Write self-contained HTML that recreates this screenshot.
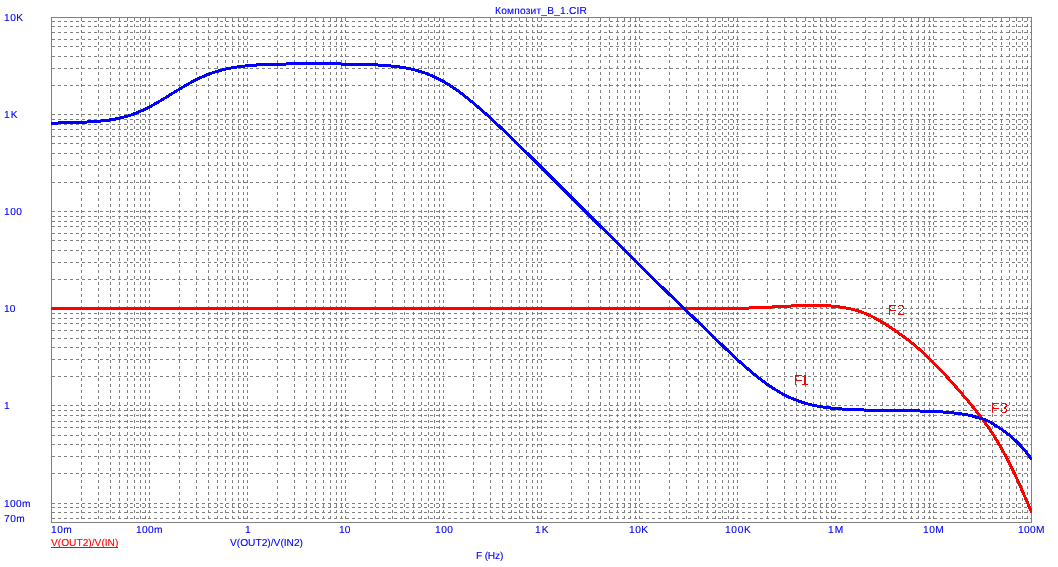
<!DOCTYPE html>
<html><head><meta charset="utf-8"><title>Композит_В_1.CIR</title>
<style>
html,body{margin:0;padding:0;background:#fff;overflow:hidden}
svg{display:block}
</style></head><body>
<svg width="1058" height="567" viewBox="0 0 1058 567">
<defs><filter id="crisp" x="0" y="0" width="100%" height="100%" filterUnits="userSpaceOnUse" color-interpolation-filters="sRGB"><feComponentTransfer><feFuncA type="gamma" amplitude="1" exponent="0.8" offset="0"/></feComponentTransfer></filter><filter id="crisp2" x="0" y="0" width="100%" height="100%" filterUnits="userSpaceOnUse" color-interpolation-filters="sRGB"><feComponentTransfer><feFuncA type="discrete" tableValues="0 0 0 1 1"/></feComponentTransfer></filter><filter id="crispc" x="0" y="0" width="100%" height="100%" filterUnits="userSpaceOnUse" color-interpolation-filters="sRGB"><feComponentTransfer><feFuncA type="discrete" tableValues="0 1"/></feComponentTransfer></filter><clipPath id="plotclip"><rect x="51" y="0" width="981" height="567"/></clipPath></defs>
<rect width="1058" height="567" fill="#fff"/>
<g stroke="#808080" stroke-width="1" fill="none" shape-rendering="crispEdges">
<path stroke-dasharray="3 3" d="M52 21.5H1031 M52 26.5H1031 M52 32.5H1031 M52 39.5H1031 M52 46.5H1031 M52 56.5H1031 M52 68.5H1031 M52 85.5H1031 M52 114.5H1031 M52 119.5H1031 M52 124.5H1031 M52 129.5H1031 M52 136.5H1031 M52 143.5H1031 M52 153.5H1031 M52 165.5H1031 M52 182.5H1031 M52 211.5H1031 M52 216.5H1031 M52 221.5H1031 M52 226.5H1031 M52 233.5H1031 M52 240.5H1031 M52 250.5H1031 M52 262.5H1031 M52 279.5H1031 M52 308.5H1031 M52 313.5H1031 M52 318.5H1031 M52 323.5H1031 M52 330.5H1031 M52 338.5H1031 M52 347.5H1031 M52 359.5H1031 M52 376.5H1031 M52 405.5H1031 M52 410.5H1031 M52 415.5H1031 M52 421.5H1031 M52 427.5H1031 M52 435.5H1031 M52 444.5H1031 M52 456.5H1031 M52 473.5H1031 M52 503.5H1031 M52 507.5H1031 M52 512.5H1031 M52 518.5H1031"/>
<path stroke-dasharray="3 3" d="M81.5 18V522 M98.5 18V522 M110.5 18V522 M119.5 18V522 M127.5 18V522 M134.5 18V522 M140.5 18V522 M145.5 18V522 M149.5 18V522 M179.5 18V522 M196.5 18V522 M208.5 18V522 M217.5 18V522 M225.5 18V522 M232.5 18V522 M238.5 18V522 M243.5 18V522 M247.5 18V522 M277.5 18V522 M294.5 18V522 M306.5 18V522 M315.5 18V522 M323.5 18V522 M330.5 18V522 M336.5 18V522 M341.5 18V522 M345.5 18V522 M375.5 18V522 M392.5 18V522 M404.5 18V522 M413.5 18V522 M421.5 18V522 M428.5 18V522 M434.5 18V522 M439.5 18V522 M443.5 18V522 M473.5 18V522 M490.5 18V522 M502.5 18V522 M511.5 18V522 M519.5 18V522 M526.5 18V522 M532.5 18V522 M537.5 18V522 M541.5 18V522 M571.5 18V522 M588.5 18V522 M600.5 18V522 M609.5 18V522 M617.5 18V522 M624.5 18V522 M630.5 18V522 M635.5 18V522 M639.5 18V522 M669.5 18V522 M686.5 18V522 M698.5 18V522 M707.5 18V522 M715.5 18V522 M722.5 18V522 M728.5 18V522 M733.5 18V522 M737.5 18V522 M767.5 18V522 M784.5 18V522 M796.5 18V522 M805.5 18V522 M813.5 18V522 M820.5 18V522 M826.5 18V522 M831.5 18V522 M835.5 18V522 M865.5 18V522 M882.5 18V522 M894.5 18V522 M903.5 18V522 M911.5 18V522 M918.5 18V522 M924.5 18V522 M929.5 18V522 M933.5 18V522 M963.5 18V522 M980.5 18V522 M992.5 18V522 M1001.5 18V522 M1009.5 18V522 M1016.5 18V522 M1022.5 18V522 M1027.5 18V522"/>
<rect x="51.5" y="17.5" width="980" height="505"/>
</g>
<g clip-path="url(#plotclip)" fill="none" stroke-width="3" shape-rendering="crispEdges" stroke-linejoin="round" stroke-linecap="butt">
<polyline stroke="#ff0000" points="51,308.5 52,308.5 53,308.5 54,308.5 55,308.5 56,308.5 57,308.5 58,308.5 59,308.5 60,308.5 61,308.5 62,308.5 63,308.5 64,308.5 65,308.5 66,308.5 67,308.5 68,308.5 69,308.5 70,308.5 71,308.5 72,308.5 73,308.5 74,308.5 75,308.5 76,308.5 77,308.5 78,308.5 79,308.5 80,308.5 81,308.5 82,308.5 83,308.5 84,308.5 85,308.5 86,308.5 87,308.5 88,308.5 89,308.5 90,308.5 91,308.5 92,308.5 93,308.5 94,308.5 95,308.5 96,308.5 97,308.5 98,308.5 99,308.5 100,308.5 101,308.5 102,308.5 103,308.5 104,308.5 105,308.5 106,308.5 107,308.5 108,308.5 109,308.5 110,308.5 111,308.5 112,308.5 113,308.5 114,308.5 115,308.5 116,308.5 117,308.5 118,308.5 119,308.5 120,308.5 121,308.5 122,308.5 123,308.5 124,308.5 125,308.5 126,308.5 127,308.5 128,308.5 129,308.5 130,308.5 131,308.5 132,308.5 133,308.5 134,308.5 135,308.5 136,308.5 137,308.5 138,308.5 139,308.5 140,308.5 141,308.5 142,308.5 143,308.5 144,308.5 145,308.5 146,308.5 147,308.5 148,308.5 149,308.5 150,308.5 151,308.5 152,308.5 153,308.5 154,308.5 155,308.5 156,308.5 157,308.5 158,308.5 159,308.5 160,308.5 161,308.5 162,308.5 163,308.5 164,308.5 165,308.5 166,308.5 167,308.5 168,308.5 169,308.5 170,308.5 171,308.5 172,308.5 173,308.5 174,308.5 175,308.5 176,308.5 177,308.5 178,308.5 179,308.5 180,308.5 181,308.5 182,308.5 183,308.5 184,308.5 185,308.5 186,308.5 187,308.5 188,308.5 189,308.5 190,308.5 191,308.5 192,308.5 193,308.5 194,308.5 195,308.5 196,308.5 197,308.5 198,308.5 199,308.5 200,308.5 201,308.5 202,308.5 203,308.5 204,308.5 205,308.5 206,308.5 207,308.5 208,308.5 209,308.5 210,308.5 211,308.5 212,308.5 213,308.5 214,308.5 215,308.5 216,308.5 217,308.5 218,308.5 219,308.5 220,308.5 221,308.5 222,308.5 223,308.5 224,308.5 225,308.5 226,308.5 227,308.5 228,308.5 229,308.5 230,308.5 231,308.5 232,308.5 233,308.5 234,308.5 235,308.5 236,308.5 237,308.5 238,308.5 239,308.5 240,308.5 241,308.5 242,308.5 243,308.5 244,308.5 245,308.5 246,308.5 247,308.5 248,308.5 249,308.5 250,308.5 251,308.5 252,308.5 253,308.5 254,308.5 255,308.5 256,308.5 257,308.5 258,308.5 259,308.5 260,308.5 261,308.5 262,308.5 263,308.5 264,308.5 265,308.5 266,308.5 267,308.5 268,308.5 269,308.5 270,308.5 271,308.5 272,308.5 273,308.5 274,308.5 275,308.5 276,308.5 277,308.5 278,308.5 279,308.5 280,308.5 281,308.5 282,308.5 283,308.5 284,308.5 285,308.5 286,308.5 287,308.5 288,308.5 289,308.5 290,308.5 291,308.5 292,308.5 293,308.5 294,308.5 295,308.5 296,308.5 297,308.5 298,308.5 299,308.5 300,308.5 301,308.5 302,308.5 303,308.5 304,308.5 305,308.5 306,308.5 307,308.5 308,308.5 309,308.5 310,308.5 311,308.5 312,308.5 313,308.5 314,308.5 315,308.5 316,308.5 317,308.5 318,308.5 319,308.5 320,308.5 321,308.5 322,308.5 323,308.5 324,308.5 325,308.5 326,308.5 327,308.5 328,308.5 329,308.5 330,308.5 331,308.5 332,308.5 333,308.5 334,308.5 335,308.5 336,308.5 337,308.5 338,308.5 339,308.5 340,308.5 341,308.5 342,308.5 343,308.5 344,308.5 345,308.5 346,308.5 347,308.5 348,308.5 349,308.5 350,308.5 351,308.5 352,308.5 353,308.5 354,308.5 355,308.5 356,308.5 357,308.5 358,308.5 359,308.5 360,308.5 361,308.5 362,308.5 363,308.5 364,308.5 365,308.5 366,308.5 367,308.5 368,308.5 369,308.5 370,308.5 371,308.5 372,308.5 373,308.5 374,308.5 375,308.5 376,308.5 377,308.5 378,308.5 379,308.5 380,308.5 381,308.5 382,308.5 383,308.5 384,308.5 385,308.5 386,308.5 387,308.5 388,308.5 389,308.5 390,308.5 391,308.5 392,308.5 393,308.5 394,308.5 395,308.5 396,308.5 397,308.5 398,308.5 399,308.5 400,308.5 401,308.5 402,308.5 403,308.5 404,308.5 405,308.5 406,308.5 407,308.5 408,308.5 409,308.5 410,308.5 411,308.5 412,308.5 413,308.5 414,308.5 415,308.5 416,308.5 417,308.5 418,308.5 419,308.5 420,308.5 421,308.5 422,308.5 423,308.5 424,308.5 425,308.5 426,308.5 427,308.5 428,308.5 429,308.5 430,308.5 431,308.5 432,308.5 433,308.5 434,308.5 435,308.5 436,308.5 437,308.5 438,308.5 439,308.5 440,308.5 441,308.5 442,308.5 443,308.5 444,308.5 445,308.5 446,308.5 447,308.5 448,308.5 449,308.5 450,308.5 451,308.5 452,308.5 453,308.5 454,308.5 455,308.5 456,308.5 457,308.5 458,308.5 459,308.5 460,308.5 461,308.5 462,308.5 463,308.5 464,308.5 465,308.5 466,308.5 467,308.5 468,308.5 469,308.5 470,308.5 471,308.5 472,308.5 473,308.5 474,308.5 475,308.5 476,308.5 477,308.5 478,308.5 479,308.5 480,308.5 481,308.5 482,308.5 483,308.5 484,308.5 485,308.5 486,308.5 487,308.5 488,308.5 489,308.5 490,308.5 491,308.5 492,308.5 493,308.5 494,308.5 495,308.5 496,308.5 497,308.5 498,308.5 499,308.5 500,308.5 501,308.5 502,308.5 503,308.5 504,308.5 505,308.5 506,308.5 507,308.5 508,308.5 509,308.5 510,308.5 511,308.5 512,308.5 513,308.5 514,308.5 515,308.5 516,308.5 517,308.5 518,308.5 519,308.5 520,308.5 521,308.5 522,308.5 523,308.5 524,308.5 525,308.5 526,308.5 527,308.5 528,308.5 529,308.5 530,308.5 531,308.5 532,308.5 533,308.5 534,308.5 535,308.5 536,308.5 537,308.5 538,308.5 539,308.5 540,308.5 541,308.5 542,308.5 543,308.5 544,308.5 545,308.5 546,308.5 547,308.5 548,308.5 549,308.5 550,308.5 551,308.5 552,308.5 553,308.5 554,308.5 555,308.5 556,308.5 557,308.5 558,308.5 559,308.5 560,308.5 561,308.5 562,308.5 563,308.5 564,308.5 565,308.5 566,308.5 567,308.5 568,308.5 569,308.5 570,308.5 571,308.5 572,308.5 573,308.5 574,308.5 575,308.5 576,308.5 577,308.5 578,308.5 579,308.5 580,308.5 581,308.5 582,308.5 583,308.5 584,308.5 585,308.5 586,308.5 587,308.5 588,308.5 589,308.5 590,308.5 591,308.5 592,308.5 593,308.5 594,308.5 595,308.5 596,308.5 597,308.5 598,308.5 599,308.5 600,308.5 601,308.5 602,308.5 603,308.5 604,308.5 605,308.5 606,308.5 607,308.5 608,308.5 609,308.5 610,308.5 611,308.5 612,308.5 613,308.5 614,308.5 615,308.5 616,308.5 617,308.5 618,308.5 619,308.5 620,308.5 621,308.5 622,308.5 623,308.5 624,308.5 625,308.5 626,308.5 627,308.5 628,308.5 629,308.5 630,308.5 631,308.5 632,308.5 633,308.5 634,308.5 635,308.5 636,308.5 637,308.5 638,308.5 639,308.5 640,308.5 641,308.5 642,308.5 643,308.5 644,308.5 645,308.5 646,308.5 647,308.5 648,308.5 649,308.5 650,308.5 651,308.5 652,308.5 653,308.5 654,308.5 655,308.5 656,308.5 657,308.5 658,308.5 659,308.5 660,308.5 661,308.5 662,308.5 663,308.5 664,308.5 665,308.5 666,308.5 667,308.5 668,308.5 669,308.5 670,308.5 671,308.5 672,308.5 673,308.5 674,308.5 675,308.5 676,308.5 677,308.5 678,308.5 679,308.5 680,308.5 681,308.5 682,308.5 683,308.5 684,308.5 685,308.5 686,308.5 687,308.5 688,308.5 689,308.5 690,308.5 691,308.5 692,308.5 693,308.5 694,308.5 695,308.5 696,308.5 697,308.5 698,308.5 699,308.5 700,308.5 701,308.5 702,308.5 703,308.5 704,308.5 705,308.5 706,308.5 707,308.5 708,308.5 709,308.5 710,308.5 711,308.5 712,308.5 713,308.5 714,308.5 715,308.5 716,308.5 717,308.5 718,308.5 719,308.5 720,308.5 721,308.5 722,308.5 723,308.5 724,308.5 725,308.5 726,308.5 727,308.5 728,308.5 729,308.5 730,308.5 731,308.5 732,308.5 733,308.5 734,308.5 735,308.5 736,308.498 737,308.492 738,308.481 739,308.464 740,308.44 741,308.41 742,308.374 743,308.331 744,308.283 745,308.231 746,308.176 747,308.121 748,308.068 749,308.03 750,307.97 751,307.947 752,307.912 753,307.876 754,307.839 755,307.802 756,307.763 757,307.723 758,307.682 759,307.641 760,307.598 761,307.555 762,307.51 763,307.465 764,307.418 765,307.371 766,307.323 767,307.274 768,307.225 769,307.174 770,307.123 771,307.071 772,307.03 773,306.966 774,306.913 775,306.859 776,306.805 777,306.75 778,306.696 779,306.641 780,306.586 781,306.531 782,306.476 783,306.422 784,306.368 785,306.314 786,306.26 787,306.208 788,306.155 789,306.104 790,306.054 791,306.03 792,305.956 793,305.909 794,305.863 795,305.819 796,305.776 797,305.734 798,305.695 799,305.657 800,305.621 801,305.588 802,305.556 803,305.527 804,305.5 805,305.475 806,305.453 807,305.434 808,305.417 809,305.404 810,305.393 811,305.385 812,305.38 813,305.379 814,305.381 815,305.387 816,305.396 817,305.408 818,305.425 819,305.445 820,305.469 821,305.498 822,305.53 823,305.567 824,305.609 825,305.654 826,305.705 827,305.76 828,305.821 829,305.886 830,305.957 831,306.033 832,306.114 833,306.202 834,306.295 835,306.394 836,306.499 837,306.611 838,306.73 839,306.856 840,306.97 841,307.13 842,307.278 843,307.435 844,307.599 845,307.772 846,307.954 847,308.145 848,308.345 849,308.555 850,308.775 851,309.03 852,309.244 853,309.495 854,309.756 855,310.03 856,310.312 857,310.607 858,310.914 859,311.233 860,311.565 861,311.909 862,312.265 863,312.634 864,313.03 865,313.413 866,313.822 867,314.245 868,314.682 869,315.132 870,315.595 871,316.072 872,316.561 873,317.062 874,317.576 875,318.101 876,318.638 877,319.186 878,319.745 879,320.314 880,320.893 881,321.482 882,322.08 883,322.687 884,323.302 885,323.926 886,324.557 887,325.195 888,325.839 889,326.49 890,327.147 891,327.809 892,328.475 893,329.147 894,329.825 895,330.508 896,331.196 897,331.891 898,332.592 899,333.299 900,334.03 901,334.732 902,335.458 903,336.192 904,336.932 905,337.68 906,338.435 907,339.198 908,339.968 909,340.747 910,341.533 911,342.328 912,343.131 913,343.943 914,344.763 915,345.593 916,346.432 917,347.28 918,348.138 919,349.03 920,349.884 921,350.772 922,351.671 923,352.581 924,353.501 925,354.432 926,355.373 927,356.323 928,357.283 929,358.252 930,359.23 931,360.216 932,361.21 933,362.213 934,363.223 935,364.241 936,365.266 937,366.298 938,367.336 939,368.382 940,369.433 941,370.491 942,371.555 943,372.625 944,373.7 945,374.781 946,375.867 947,376.958 948,378.055 949,379.156 950,380.262 951,381.373 952,382.489 953,383.609 954,384.733 955,385.862 956,386.97 957,388.132 958,389.274 959,390.42 960,391.57 961,392.725 962,393.883 963,395.046 964,396.214 965,397.386 966,398.563 967,399.746 968,400.936 969,402.132 970,403.335 971,404.547 972,405.767 973,406.97 974,408.234 975,409.483 976,410.743 977,412.03 978,413.297 979,414.592 980,415.901 981,417.224 982,418.561 983,419.913 984,421.281 985,422.666 986,424.068 987,425.487 988,426.925 989,428.382 990,429.859 991,431.356 992,432.875 993,434.414 994,435.97 995,437.561 996,439.17 997,440.802 998,442.459 999,444.141 1000,445.849 1001,447.583 1002,449.343 1003,451.129 1004,452.943 1005,454.784 1006,456.653 1007,458.55 1008,460.475 1009,462.429 1010,464.411 1011,466.422 1012,468.462 1013,470.531 1014,472.628 1015,474.755 1016,476.911 1017,479.095 1018,481.307 1019,483.541 1020,485.793 1021,488.06 1022,490.337 1023,492.62 1024,494.905 1025,497.186 1026,499.46 1027,501.723 1028,503.97 1029,506.197 1030,508.4 1031,510.573 1032,512.713"/>
<polyline stroke="#0000ff" points="51,123.291 52,123.246 53,123.203 54,123.162 55,123.121 56,123.082 57,123.045 58,123.03 59,122.97 60,122.938 61,122.904 62,122.871 63,122.839 64,122.807 65,122.776 66,122.746 67,122.716 68,122.686 69,122.656 70,122.626 71,122.596 72,122.566 73,122.536 74,122.505 75,122.474 76,122.442 77,122.41 78,122.376 79,122.342 80,122.307 81,122.27 82,122.232 83,122.192 84,122.151 85,122.108 86,122.063 87,122.03 88,121.966 89,121.914 90,121.86 91,121.803 92,121.743 93,121.679 94,121.613 95,121.543 96,121.469 97,121.391 98,121.31 99,121.224 100,121.133 101,121.038 102,120.938 103,120.833 104,120.723 105,120.607 106,120.486 107,120.358 108,120.225 109,120.085 110,119.938 111,119.785 112,119.624 113,119.457 114,119.282 115,119.099 116,118.908 117,118.709 118,118.501 119,118.286 120,118.061 121,117.827 122,117.585 123,117.332 124,117.071 125,116.8 126,116.518 127,116.227 128,115.926 129,115.614 130,115.292 131,114.96 132,114.617 133,114.263 134,113.899 135,113.523 136,113.137 137,112.74 138,112.333 139,111.915 140,111.486 141,111.047 142,110.598 143,110.139 144,109.67 145,109.191 146,108.702 147,108.205 148,107.698 149,107.183 150,106.658 151,106.126 152,105.586 153,105.038 154,104.483 155,103.921 156,103.352 157,102.777 158,102.196 159,101.609 160,101.03 161,100.421 162,99.82 163,99.216 164,98.608 165,97.97 166,97.383 167,96.768 168,96.15 169,95.532 170,94.912 171,94.293 172,93.673 173,93.054 174,92.435 175,91.818 176,91.203 177,90.59 178,89.97 179,89.372 180,88.767 181,88.167 182,87.57 183,86.97 184,86.391 185,85.809 186,85.232 187,84.662 188,84.098 189,83.54 190,82.97 191,82.445 192,81.909 193,81.38 194,80.859 195,80.347 196,79.842 197,79.347 198,78.86 199,78.382 200,77.913 201,77.453 202,77.03 203,76.562 204,76.13 205,75.708 206,75.296 207,74.894 208,74.501 209,74.118 210,73.745 211,73.381 212,73.03 213,72.683 214,72.348 215,72.03 216,71.707 217,71.4 218,71.103 219,70.814 220,70.535 221,70.264 222,70.03 223,69.749 224,69.504 225,69.267 226,69.038 227,68.818 228,68.604 229,68.399 230,68.2 231,68.03 232,67.825 233,67.648 234,67.477 235,67.313 236,67.155 237,67.03 238,66.857 239,66.717 240,66.582 241,66.453 242,66.328 243,66.209 244,66.095 245,65.97 246,65.88 247,65.78 248,65.683 249,65.591 250,65.503 251,65.418 252,65.337 253,65.26 254,65.186 255,65.115 256,65.047 257,64.97 258,64.921 259,64.862 260,64.806 261,64.752 262,64.701 263,64.652 264,64.606 265,64.562 266,64.519 267,64.479 268,64.441 269,64.404 270,64.37 271,64.337 272,64.306 273,64.276 274,64.248 275,64.221 276,64.196 277,64.171 278,64.149 279,64.127 280,64.107 281,64.087 282,64.069 283,64.052 284,64.036 285,64.03 286,64.03 287,63.97 288,63.97 289,63.968 290,63.957 291,63.947 292,63.937 293,63.928 294,63.92 295,63.912 296,63.905 297,63.898 298,63.892 299,63.887 300,63.882 301,63.877 302,63.873 303,63.87 304,63.867 305,63.864 306,63.862 307,63.86 308,63.859 309,63.858 310,63.857 311,63.857 312,63.857 313,63.857 314,63.858 315,63.859 316,63.861 317,63.862 318,63.864 319,63.867 320,63.869 321,63.873 322,63.876 323,63.88 324,63.884 325,63.888 326,63.892 327,63.897 328,63.903 329,63.908 330,63.914 331,63.921 332,63.927 333,63.934 334,63.942 335,63.95 336,63.958 337,63.967 338,63.97 339,63.97 340,63.97 341,64.03 342,64.03 343,64.03 344,64.04 345,64.052 346,64.065 347,64.079 348,64.093 349,64.108 350,64.124 351,64.14 352,64.157 353,64.175 354,64.194 355,64.214 356,64.234 357,64.255 358,64.278 359,64.301 360,64.325 361,64.351 362,64.378 363,64.405 364,64.435 365,64.465 366,64.497 367,64.53 368,64.565 369,64.602 370,64.64 371,64.68 372,64.721 373,64.765 374,64.811 375,64.858 376,64.908 377,64.96 378,65.03 379,65.072 380,65.132 381,65.194 382,65.259 383,65.327 384,65.398 385,65.473 386,65.55 387,65.631 388,65.716 389,65.805 390,65.898 391,65.97 392,66.095 393,66.2 394,66.31 395,66.425 396,66.545 397,66.67 398,66.8 399,66.935 400,67.077 401,67.224 402,67.378 403,67.537 404,67.703 405,67.876 406,68.056 407,68.243 408,68.438 409,68.64 410,68.849 411,69.067 412,69.293 413,69.527 414,69.77 415,70.03 416,70.283 417,70.553 418,70.832 419,71.122 420,71.421 421,71.73 422,72.049 423,72.378 424,72.718 425,73.069 426,73.431 427,73.803 428,74.187 429,74.581 430,74.97 431,75.405 432,75.833 433,76.274 434,76.726 435,77.189 436,77.664 437,78.151 438,78.65 439,79.16 440,79.682 441,80.216 442,80.761 443,81.317 444,81.885 445,82.465 446,83.055 447,83.657 448,84.27 449,84.894 450,85.528 451,86.174 452,86.83 453,87.496 454,88.172 455,88.858 456,89.554 457,90.26 458,90.97 459,91.7 460,92.433 461,93.176 462,93.927 463,94.686 464,95.454 465,96.23 466,97.03 467,97.805 468,98.603 469,99.409 470,100.222 471,101.042 472,101.868 473,102.7 474,103.539 475,104.384 476,105.235 477,106.091 478,106.953 479,107.82 480,108.692 481,109.569 482,110.451 483,111.337 484,112.228 485,113.123 486,114.03 487,114.926 488,115.833 489,116.744 490,117.658 491,118.576 492,119.497 493,120.422 494,121.349 495,122.28 496,123.213 497,124.149 498,125.088 499,126.03 500,126.97 501,127.919 502,128.868 503,129.818 504,130.771 505,131.726 506,132.683 507,133.642 508,134.602 509,135.565 510,136.529 511,137.494 512,138.462 513,139.431 514,140.401 515,141.373 516,142.346 517,143.32 518,144.296 519,145.272 520,146.25 521,147.229 522,148.21 523,149.191 524,150.173 525,151.156 526,152.14 527,153.124 528,154.11 529,155.096 530,156.083 531,157.071 532,158.06 533,159.049 534,160.039 535,161.03 536,162.03 537,163.03 538,164.03 539,164.97 540,165.97 541,166.97 542,167.97 543,168.97 544,169.966 545,170.961 546,171.957 547,172.953 548,173.949 549,174.946 550,175.942 551,176.939 552,177.937 553,178.934 554,179.932 555,180.93 556,181.929 557,182.927 558,183.926 559,184.924 560,185.923 561,186.922 562,187.922 563,188.921 564,189.92 565,190.92 566,191.92 567,192.919 568,193.919 569,194.919 570,195.919 571,196.919 572,197.919 573,198.918 574,199.918 575,200.918 576,201.918 577,202.918 578,203.918 579,204.918 580,205.918 581,206.918 582,207.917 583,208.917 584,209.917 585,210.916 586,211.916 587,212.915 588,213.914 589,214.913 590,215.913 591,216.911 592,217.91 593,218.909 594,219.907 595,220.906 596,221.904 597,222.902 598,223.9 599,224.898 600,225.895 601,226.892 602,227.89 603,228.887 604,229.883 605,230.88 606,231.876 607,232.872 608,233.868 609,234.864 610,235.859 611,236.854 612,237.849 613,238.844 614,239.838 615,240.832 616,241.826 617,242.819 618,243.812 619,244.805 620,245.798 621,246.79 622,247.782 623,248.774 624,249.765 625,250.756 626,251.746 627,252.737 628,253.726 629,254.716 630,255.705 631,256.694 632,257.682 633,258.67 634,259.658 635,260.645 636,261.632 637,262.618 638,263.604 639,264.59 640,265.575 641,266.559 642,267.543 643,268.527 644,269.51 645,270.493 646,271.475 647,272.457 648,273.438 649,274.419 650,275.399 651,276.379 652,277.358 653,278.337 654,279.315 655,280.292 656,281.269 657,282.245 658,283.221 659,284.196 660,285.171 661,286.144 662,287.118 663,288.09 664,289.062 665,290.033 666,291.03 667,291.97 668,292.943 669,293.911 670,294.879 671,295.846 672,296.812 673,297.778 674,298.743 675,299.708 676,300.672 677,301.635 678,302.598 679,303.561 680,304.524 681,305.486 682,306.448 683,307.41 684,308.372 685,309.334 686,310.296 687,311.258 688,312.22 689,313.182 690,314.144 691,315.107 692,316.069 693,317.032 694,317.97 695,318.959 696,319.923 697,320.888 698,321.853 699,322.818 700,323.784 701,324.751 702,325.718 703,326.686 704,327.654 705,328.623 706,329.593 707,330.563 708,331.533 709,332.504 710,333.474 711,334.445 712,335.416 713,336.386 714,337.356 715,338.326 716,339.295 717,340.263 718,341.23 719,342.197 720,343.162 721,344.126 722,345.088 723,346.049 724,347.03 725,347.965 726,348.92 727,349.873 728,350.823 729,351.771 730,352.716 731,353.658 732,354.597 733,355.533 734,356.465 735,357.393 736,358.318 737,359.239 738,360.155 739,361.066 740,361.97 741,362.875 742,363.772 743,364.664 744,365.551 745,366.432 746,367.307 747,368.177 748,369.04 749,369.898 750,370.749 751,371.594 752,372.432 753,373.263 754,374.087 755,374.903 756,375.713 757,376.514 758,377.308 759,378.094 760,378.872 761,379.641 762,380.401 763,381.153 764,381.896 765,382.63 766,383.354 767,384.068 768,384.773 769,385.468 770,386.153 771,386.828 772,387.492 773,388.146 774,388.789 775,389.421 776,390.042 777,390.652 778,391.251 779,391.839 780,392.415 781,392.97 782,393.533 783,394.075 784,394.605 785,395.123 786,395.63 787,396.125 788,396.609 789,397.081 790,397.541 791,397.97 792,398.427 793,398.853 794,399.268 795,399.672 796,400.064 797,400.445 798,400.816 799,401.175 800,401.524 801,401.863 802,402.191 803,402.509 804,402.817 805,403.115 806,403.404 807,403.683 808,403.952 809,404.213 810,404.465 811,404.708 812,404.942 813,405.169 814,405.387 815,405.597 816,405.8 817,405.97 818,406.183 819,406.364 820,406.538 821,406.706 822,406.867 823,407.03 824,407.171 825,407.314 826,407.452 827,407.584 828,407.711 829,407.833 830,407.95 831,408.062 832,408.17 833,408.273 834,408.372 835,408.467 836,408.558 837,408.646 838,408.73 839,408.81 840,408.887 841,408.961 842,409.032 843,409.099 844,409.164 845,409.226 846,409.286 847,409.343 848,409.398 849,409.451 850,409.501 851,409.549 852,409.595 853,409.64 854,409.682 855,409.723 856,409.762 857,409.799 858,409.835 859,409.87 860,409.903 861,409.935 862,409.965 863,409.97 864,410.03 865,410.05 866,410.076 867,410.101 868,410.125 869,410.148 870,410.171 871,410.192 872,410.213 873,410.234 874,410.253 875,410.272 876,410.291 877,410.308 878,410.326 879,410.343 880,410.359 881,410.375 882,410.391 883,410.406 884,410.421 885,410.436 886,410.45 887,410.465 888,410.479 889,410.493 890,410.507 891,410.52 892,410.534 893,410.548 894,410.561 895,410.575 896,410.589 897,410.602 898,410.616 899,410.63 900,410.644 901,410.659 902,410.673 903,410.688 904,410.703 905,410.719 906,410.734 907,410.751 908,410.767 909,410.784 910,410.802 911,410.82 912,410.839 913,410.858 914,410.878 915,410.898 916,410.92 917,410.942 918,410.965 919,410.97 920,411.03 921,411.039 922,411.066 923,411.094 924,411.123 925,411.154 926,411.185 927,411.218 928,411.253 929,411.289 930,411.326 931,411.366 932,411.406 933,411.449 934,411.494 935,411.541 936,411.59 937,411.641 938,411.694 939,411.75 940,411.808 941,411.869 942,411.933 943,412.03 944,412.07 945,412.143 946,412.219 947,412.298 948,412.382 949,412.468 950,412.559 951,412.653 952,412.752 953,412.854 954,412.962 955,413.073 956,413.19 957,413.311 958,413.437 959,413.569 960,413.706 961,413.849 962,413.97 963,414.153 964,414.314 965,414.482 966,414.657 967,414.839 968,415.03 969,415.227 970,415.439 971,415.669 972,415.924 973,416.207 974,416.514 975,416.827 976,417.131 977,417.42 978,417.698 979,417.968 980,418.235 981,418.504 982,418.78 983,419.072 984,419.384 985,419.724 986,420.097 987,420.509 988,420.968 989,421.476 990,422.03 991,422.61 992,423.216 993,423.835 994,424.46 995,425.089 996,425.724 997,426.365 998,427.03 999,427.671 1000,428.338 1001,429.03 1002,429.704 1003,430.405 1004,431.119 1005,431.848 1006,432.592 1007,433.352 1008,434.129 1009,434.923 1010,435.737 1011,436.569 1012,437.423 1013,438.297 1014,439.193 1015,440.112 1016,441.054 1017,442.03 1018,443.03 1019,444.03 1020,445.07 1021,446.139 1022,447.236 1023,448.36 1024,449.513 1025,450.696 1026,451.908 1027,453.151 1028,454.424 1029,455.729 1030,457.065 1031,458.434 1032,459.835"/>
</g>
<line x1="51" y1="547.5" x2="118" y2="547.5" stroke="#ff0000" stroke-width="1" shape-rendering="crispEdges"/>
<g font-family="'Liberation Sans', 'Noto Sans CJK SC', sans-serif" font-size="10.2" text-rendering="geometricPrecision" filter="url(#crisp)">
<text x="4" y="21" fill="#0000ff" textLength="19.14" lengthAdjust="spacing">10K</text>
<text x="4" y="118" fill="#0000ff" textLength="13.47" lengthAdjust="spacing">1K</text>
<text x="4" y="215" fill="#0000ff" textLength="18.00" lengthAdjust="spacing">100</text>
<text x="4" y="312" fill="#0000ff">10</text>
<text x="4" y="409" fill="#0000ff">1</text>
<text x="4" y="507" fill="#0000ff" textLength="26.48" lengthAdjust="spacing">100m</text>
<text x="4" y="522" fill="#0000ff" textLength="20.83" lengthAdjust="spacing">70m</text>
<text x="51" y="533" fill="#0000ff" textLength="20.83" lengthAdjust="spacing">10m</text>
<text x="136" y="533" fill="#0000ff" textLength="26.48" lengthAdjust="spacing">100m</text>
<text x="245" y="533" fill="#0000ff">1</text>
<text x="339" y="533" fill="#0000ff">10</text>
<text x="435" y="533" fill="#0000ff" textLength="18.00" lengthAdjust="spacing">100</text>
<text x="535" y="533" fill="#0000ff" textLength="13.47" lengthAdjust="spacing">1K</text>
<text x="629" y="533" fill="#0000ff" textLength="19.14" lengthAdjust="spacing">10K</text>
<text x="725" y="533" fill="#0000ff" textLength="25.80" lengthAdjust="spacing">100K</text>
<text x="828" y="533" fill="#0000ff" textLength="15.16" lengthAdjust="spacing">1M</text>
<text x="923" y="533" fill="#0000ff" textLength="20.83" lengthAdjust="spacing">10M</text>
<text x="1018" y="533" fill="#0000ff" textLength="26.48" lengthAdjust="spacing">100M</text>
<text x="51" y="546" fill="#ff0000">V(OUT2)/V(IN)</text>
<text x="230" y="546" fill="#0000ff">V(OUT2)/V(IN2)</text>
<text x="476" y="559" fill="#0000ff" textLength="27.30" lengthAdjust="spacing">F (Hz)</text>
<text x="495" y="14" fill="#0000ff" textLength="91.88" lengthAdjust="spacing">Композит_В_1.CIR</text>
</g>
<g font-family="'Liberation Sans', sans-serif" font-size="14.5" text-rendering="geometricPrecision" filter="url(#crisp2)">
<text x="794" y="385" fill="#ff0000" textLength="14.92" lengthAdjust="spacing">F1</text>
<text x="888" y="315" fill="#ff0000">F2</text>
<text x="991" y="413" fill="#ff0000">F3</text>
</g>
</svg>
</body></html>
